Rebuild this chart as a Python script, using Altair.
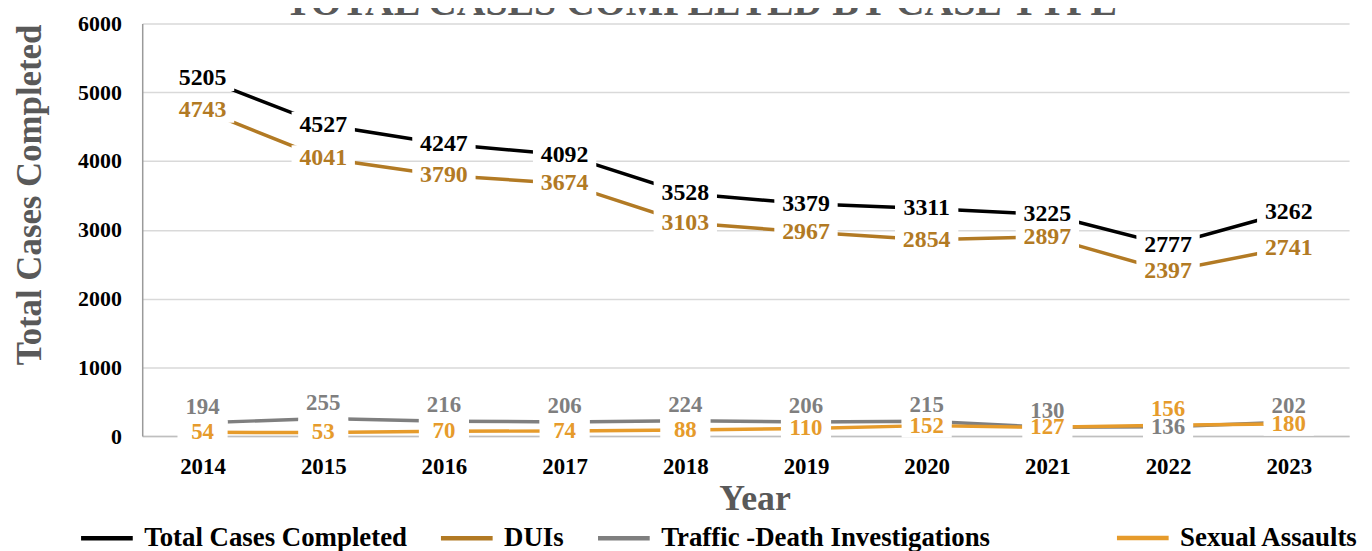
import altair as alt
import pandas as pd

title_text = ["TOTAL CASES COMPLETED BY CASE TYPE*"]
years = ["2014", "2015", "2016", "2017", "2018", "2019", "2020", "2021", "2022", "2023"]
series_names = ["Total Cases Completed", "DUIs", "Traffic -Death Investigations", "Sexual Assaults"]
total_cases = [5205, 4527, 4247, 4092, 3528, 3379, 3311, 3225, 2777, 3262]
duis = [4743, 4041, 3790, 3674, 3103, 2967, 2854, 2897, 2397, 2741]
traffic_death = [194, 255, 216, 206, 224, 206, 215, 130, 136, 202]
sexual_assaults = [54, 53, 70, 74, 88, 110, 152, 127, 156, 180]
series_colors = ["#000000", "#B27A24", "#7F7F7F", "#E69B2B"]
y_ticks = [0, 1000, 2000, 3000, 4000, 5000, 6000]

rows = []
for name, vals in zip(series_names, [total_cases, duis, traffic_death, sexual_assaults]):
    for yr, v in zip(years, vals):
        rows.append({"Year": yr, "Series": name, "Value": v})
df = pd.DataFrame(rows)

# among the two small series, the larger value of each year gets its label lifted
big_series = series_names[:2]
small_series = series_names[2:]
lift = []
for _, r in df.iterrows():
    if r["Series"] in small_series:
        other = [s for s in small_series if s != r["Series"]][0]
        ov = df[(df.Year == r["Year"]) & (df.Series == other)]["Value"].iloc[0]
        lift.append(bool(r["Value"] > ov))
    else:
        lift.append(False)
df["Lift"] = lift
df["Group"] = ["big" if s in big_series else ("lift" if l else "center") for s, l in zip(df.Series, df.Lift)]

FONT = "Liberation Serif"
GRAY_TXT = "#595959"

color_scale = alt.Scale(domain=series_names, range=series_colors)

x_enc = alt.X(
    "Year:O",
    sort=years,
    scale=alt.Scale(type="point", padding=0.5),
    axis=alt.Axis(
        title="Year", labelAngle=0, labelFont=FONT, labelFontWeight="bold", labelFontSize=23,
        labelColor="#000000", labelPadding=31, labelBaseline="middle", ticks=False, tickSize=0,
        domainColor="#BFBFBF", domainWidth=1.5, grid=False,
        titleFont=FONT, titleFontSize=36, titleFontWeight="bold", titleColor=GRAY_TXT,
        titleX=616, titleY=63, titleBaseline="middle", titleAlign="center",
    ),
)
y_enc = alt.Y(
    "Value:Q",
    scale=alt.Scale(domain=[0, 6000], nice=False),
    axis=alt.Axis(
        title="Total Cases Completed", values=y_ticks, format="d", labelFont=FONT, labelFontWeight="bold",
        labelFontSize=22, labelColor="#000000", labelPadding=21, ticks=False, tickSize=0,
        domainColor="#9A9A9A", domainWidth=1.5, gridColor="#D9D9D9", gridWidth=1.5,
        titleFont=FONT, titleFontSize=35, titleFontWeight="bold", titleColor=GRAY_TXT,
        titleAngle=270, titleX=-113, titleY=172, titleAlign="center", titleBaseline="middle",
    ),
)

base = alt.Chart(df)

legend_common = dict(
    title=None, orient="none", direction="horizontal",
    symbolType="stroke", symbolSize=2704, symbolStrokeWidth=4.5, labelFont=FONT,
    labelFontWeight="bold", labelFontSize=27, labelColor="#000000", labelLimit=0,
    labelOffset=9, columnPadding=24,
)
legend_main = alt.Legend(legendX=-64, legendY=489, values=series_names[:3], **legend_common)
legend_last = alt.Legend(legendX=978, legendY=489, **legend_common)

lines_main = base.transform_filter(
    alt.FieldOneOfPredicate(field="Series", oneOf=series_names[:3])
).mark_line(strokeWidth=3.5).encode(
    x=x_enc, y=y_enc,
    color=alt.Color("Series:N", scale=color_scale, sort=series_names, legend=legend_main),
    detail="Series:N",
)
lines_last = base.transform_filter(alt.datum.Series == series_names[3]).mark_line(strokeWidth=3.5).encode(
    x=x_enc, y=y_enc,
    stroke=alt.Stroke("Series:N", scale=alt.Scale(domain=[series_names[3]], range=[series_colors[3]]),
                      legend=legend_last),
)

box_big = base.transform_filter(alt.datum.Group == "big").mark_point(
    shape="M-2.45,-1 L2.45,-1 L2.45,1 L-2.45,1 Z", size=676, filled=True,
    color="white", opacity=1, strokeWidth=0,
).encode(x=x_enc, y=y_enc)
box_center = base.transform_filter(alt.datum.Group == "center").mark_point(
    shape="M-2.1,-1 L2.1,-1 L2.1,1 L-2.1,1 Z", size=576, filled=True,
    color="white", opacity=1, strokeWidth=0,
).encode(x=x_enc, y=y_enc)
box_lift = base.transform_filter(alt.datum.Group == "lift").mark_point(
    shape="M-2.1,-2.25 L2.1,-2.25 L2.1,0.25 L-2.1,0.25 Z", size=576, filled=True,
    color="white", opacity=1, strokeWidth=0,
).encode(x=x_enc, y=y_enc)

txt_color = alt.Color("Series:N", scale=color_scale, legend=None)
text_big = base.transform_filter(alt.datum.Group == "big").mark_text(
    font=FONT, fontWeight="bold", fontSize=24, baseline="middle", align="center",
).encode(x=x_enc, y=y_enc, text="Value:Q", color=txt_color)
text_center = base.transform_filter(alt.datum.Group == "center").mark_text(
    font=FONT, fontWeight="bold", fontSize=23, baseline="middle", align="center",
).encode(x=x_enc, y=y_enc, text="Value:Q", color=txt_color)
text_lift = base.transform_filter(alt.datum.Group == "lift").mark_text(
    font=FONT, fontWeight="bold", fontSize=23, baseline="middle", align="center", dy=-16,
).encode(x=x_enc, y=y_enc, text="Value:Q", color=txt_color)

# chart title, cut at the top edge as in the reference
title_layer = alt.Chart(pd.DataFrame({"t": title_text})).mark_text(
    font=FONT, fontWeight="bold", fontSize=40, color=GRAY_TXT, baseline="alphabetic", align="center",
).encode(text="t:N", x=alt.value(572), y=alt.value(-9))

chart = alt.layer(
    lines_main, lines_last, box_big, box_center, box_lift, text_big, text_center, text_lift, title_layer
).properties(
    width=1214,
    height=415,
    padding={"left": 135, "top": 14, "right": 15, "bottom": 114},
    autosize=alt.AutoSizeParams(type="none"),
).configure_view(strokeWidth=0)

chart.save("out.html", embed_options={"renderer": "svg", "actions": False})
